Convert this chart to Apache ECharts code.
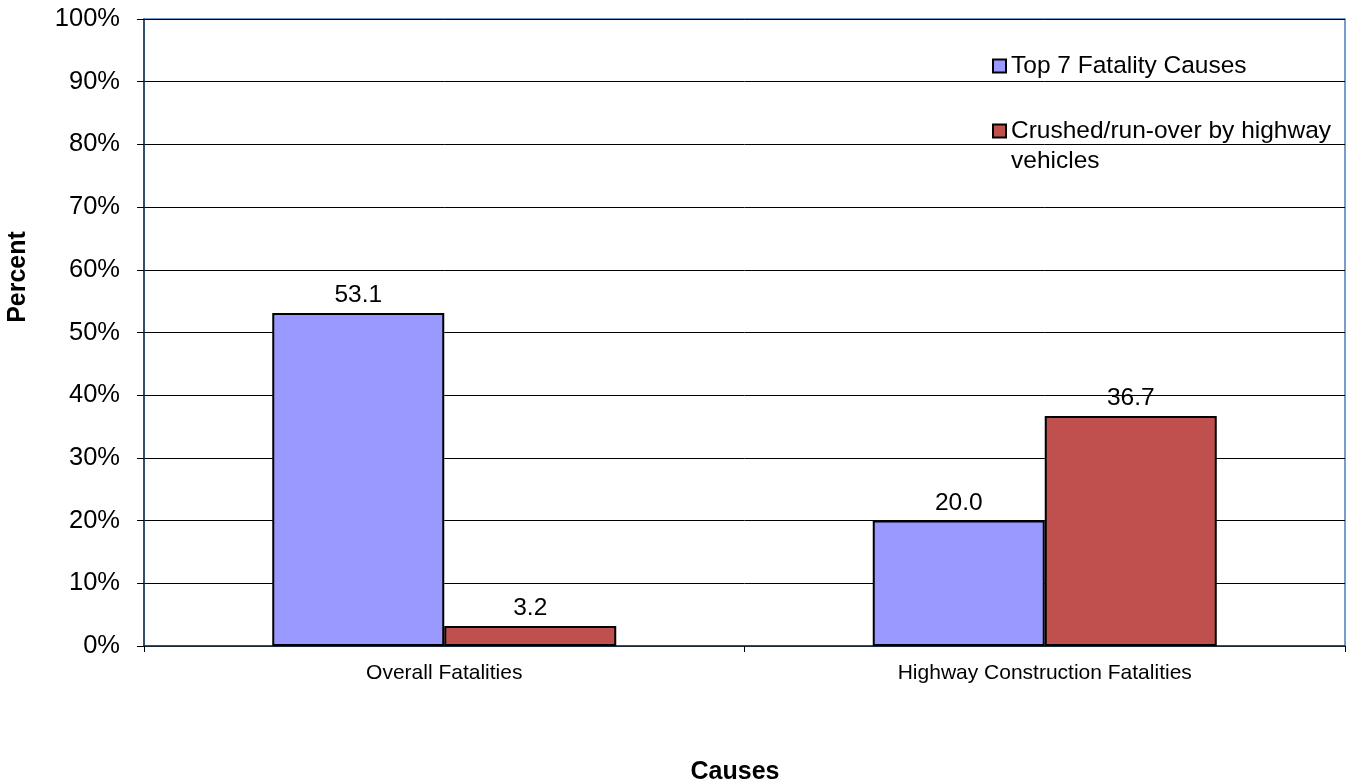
<!DOCTYPE html>
<html>
<head>
<meta charset="utf-8">
<script src="https://cdn.jsdelivr.net/npm/echarts@6/dist/echarts.min.js"></script>
<style>
  html, body { margin: 0; padding: 0; background: #fff; }
  #chart { width: 1349px; height: 781px; }
</style>
</head>
<body>
<div id="chart"></div>
<script>
// Fatality shares by group (percent)
const categories = ['Overall Fatalities', 'Highway Construction Fatalities'];
const seriesNames = ['Top 7 Fatality Causes', 'Crushed/run-over by highway vehicles'];
const topSevenCauses = [53.1, 20.0];
const crushedRunOver = [3.2, 36.7];
const yTicks = [0, 10, 20, 30, 40, 50, 60, 70, 80, 90, 100];
const yAxisTitle = 'Percent';
const xAxisTitle = 'Causes';

const FONT = '"Liberation Sans", Arial, sans-serif';

const chart = echarts.init(document.getElementById('chart'), null, { renderer: 'canvas' });

const labelStyle = {
  show: true,
  position: 'top',
  distance: 5,
  fontFamily: FONT,
  fontSize: 24.5,
  color: '#000',
  formatter: p => p.value.toFixed(1)
};

// Wrap long legend names; a leading empty line keeps the swatch level
// with the first printed line (legend text is centred on the swatch).
function legendText(name) {
  const wrapped = name.replace(' by highway vehicles', ' by highway\nvehicles');
  return wrapped === name ? name : '\n' + wrapped;
}

chart.setOption({
  animation: false,
  textStyle: { fontFamily: FONT },
  grid: {
    left: 144, right: 4, top: 19, bottom: 135,
    outerBoundsMode: 'none',
    containLabel: false,
    show: true,
    borderColor: '#4a7ebb',
    borderWidth: 1.5,
    backgroundColor: 'transparent'
  },
  legend: {
    orient: 'vertical',
    left: 987,
    top: 46,
    itemWidth: 13,
    itemHeight: 13,
    itemGap: 5,
    icon: 'rect',
    textStyle: { fontFamily: FONT, fontSize: 24.5, color: '#000', lineHeight: 30 },
    formatter: legendText,
    data: seriesNames
  },
  graphic: [
    {
      type: 'text',
      x: 18, y: 277,
      rotation: Math.PI / 2,
      style: {
        text: yAxisTitle,
        fontFamily: FONT, fontSize: 25, fontWeight: 'bold', fill: '#000',
        align: 'center', verticalAlign: 'middle'
      }
    },
    {
      type: 'text',
      x: 735, y: 772,
      style: {
        text: xAxisTitle,
        fontFamily: FONT, fontSize: 25, fontWeight: 'bold', fill: '#000',
        align: 'center', verticalAlign: 'middle'
      }
    }
  ],
  xAxis: {
    type: 'category',
    data: categories,
    axisLine: { lineStyle: { color: '#1f3550', width: 1.5 } },
    axisTick: { show: true, length: 6, lineStyle: { color: '#000' } },
    axisLabel: { fontFamily: FONT, fontSize: 21, color: '#000', margin: 17 }
  },
  yAxis: {
    type: 'value',
    min: yTicks[0],
    max: yTicks[yTicks.length - 1],
    interval: 10,
    axisLine: { show: true, lineStyle: { color: '#1f3550', width: 1.5 } },
    axisTick: { show: true, length: 7, lineStyle: { color: '#000' } },
    axisLabel: { fontFamily: FONT, fontSize: 25.5, color: '#000', margin: 24, formatter: '{value}%' },
    splitLine: { show: true, lineStyle: { color: '#000', width: 1 } }
  },
  series: [
    {
      name: seriesNames[0],
      type: 'bar',
      data: topSevenCauses,
      barWidth: 172,
      barGap: '0%',
      itemStyle: { color: '#9999ff', borderColor: '#000', borderWidth: 2 },
      label: labelStyle
    },
    {
      name: seriesNames[1],
      type: 'bar',
      data: crushedRunOver,
      barWidth: 172,
      barGap: '0%',
      itemStyle: { color: '#c0504d', borderColor: '#000', borderWidth: 2 },
      label: labelStyle
    }
  ]
});
</script>
</body>
</html>
